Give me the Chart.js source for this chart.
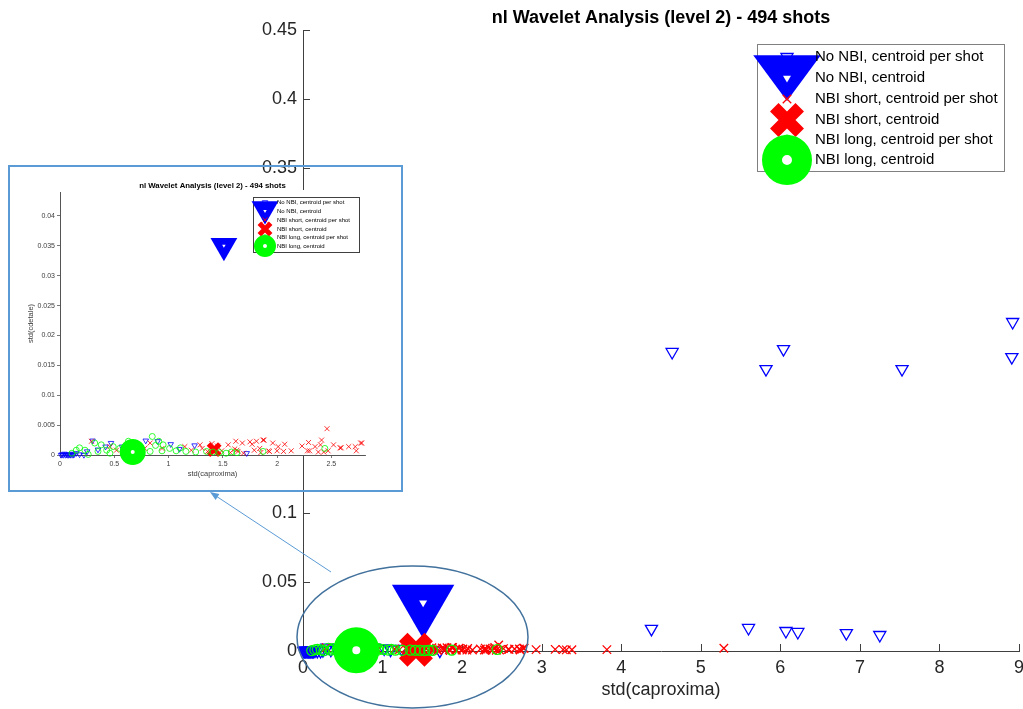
<!DOCTYPE html>
<html>
<head>
<meta charset="utf-8">
<script src="https://cdn.jsdelivr.net/npm/chart.js@4.4.1/dist/chart.umd.min.js"></script>
<style>
    html, body { margin: 0; padding: 0; background: #fff; }
    #wrap { position: relative; width: 1023px; height: 709px; overflow: hidden; }
    #mainChart { position: absolute; left: 0; top: 0; }
    #insetBox { position: absolute; left: 8px; top: 165px; width: 391px; height: 323px; border: 2px solid #5b9bd5; }
    #insetChart { position: absolute; left: 0; top: 0; }
    #overlay { position: absolute; left: 0; top: 0; pointer-events: none; }
</style>
</head>
<body>
<div id="wrap">
    <canvas id="mainChart" width="1023" height="709"></canvas>
    <div id="insetBox"><canvas id="insetChart" width="391" height="323"></canvas></div>
    <svg id="overlay" width="1023" height="709">
        <ellipse cx="412.5" cy="637" rx="115.5" ry="71" fill="none" stroke="#41719c" stroke-width="1.5"/>
        <line x1="331" y1="572" x2="216" y2="496" stroke="#5b9bd5" stroke-width="1"/>
        <polygon points="210,492 219.4,494.1 215.6,499.9" fill="#5b9bd5"/>
    </svg>
</div>
<script>
var TITLE = 'nl Wavelet Analysis (level 2) - 494 shots';
var X_LABEL = 'std(caproxima)';
var Y_LABEL_INSET = 'std(cdetale)';
var LABELS = [
    'No NBI, centroid per shot',
    'No NBI, centroid',
    'NBI short, centroid per shot',
    'NBI short, centroid',
    'NBI long, centroid per shot',
    'NBI long, centroid'
];

// No NBI, one point per shot
var noNbiX = [0.01, 0.02, 0.03, 0.04, 0.05, 0.06, 0.07, 0.08,
              0.09, 0.10, 0.11, 0.12, 0.13, 0.15, 0.18, 0.22,
              0.25, 0.30, 0.35, 0.42, 0.47, 0.57, 0.79, 0.90,
              1.02, 1.10, 1.24, 1.72, 4.38, 4.64, 5.60, 5.82,
              6.04, 6.07, 6.22, 6.83, 7.25, 7.53, 8.91, 8.92];
var noNbiY = [0, 0.0001, 0, 0.0002, 0, 0.0001, 0, 0,
              0.0001, 0, 0.0002, 0, 0.0001, 0.0003, 0.0001, 0,
              0.0006, 0.0024, 0.0009, 0.0014, 0.0020, 0.0014, 0.0024, 0.0023,
              0.0018, 0.0010, 0.0016, 0.0003, 0.0160, 0.2167, 0.0167, 0.2043,
              0.2188, 0.0145, 0.0138, 0.0130, 0.0116, 0.2043, 0.2130, 0.2384];

// NBI short, one point per shot
var shortX = [0.29, 0.46, 0.52, 0.66, 0.78, 0.83, 0.94, 1.15,
              1.21, 1.29, 1.31, 1.36, 1.40, 1.45, 1.49, 1.55,
              1.57, 1.61, 1.62, 1.63, 1.64, 1.68, 1.69, 1.75,
              1.77, 1.79, 1.81, 1.84, 1.85, 1.87, 1.88, 1.92,
              1.93, 1.96, 2.00, 2.01, 2.06, 2.07, 2.13, 2.23,
              2.28, 2.29, 2.30, 2.35, 2.38, 2.40, 2.41, 2.43,
              2.46, 2.47, 2.52, 2.58, 2.59, 2.66, 2.72, 2.73,
              2.77, 2.78, 2.93, 3.17, 3.27, 3.31, 3.38, 3.82,
              5.29];
var shortY = [0.0023, 0.0014, 0.0008, 0.0014, 0.0011, 0.0020, 0.0011, 0.0014,
              0.0008, 0.0017, 0.0011, 0.0006, 0.0019, 0.0015, 0.0007, 0.0017,
              0.0004, 0.0010, 0.0023, 0.0008, 0.0006, 0.0020, 0.0003, 0.0022,
              0.0018, 0.0008, 0.0023, 0.0011, 0.0004, 0.0025, 0.0025, 0.0007,
              0.0006, 0.0020, 0.0007, 0.0014, 0.0006, 0.0018, 0.0007, 0.0015,
              0.0007, 0.0021, 0.0007, 0.0014, 0.0005, 0.0017, 0.0025, 0.0005,
              0.0044, 0.0007, 0.0017, 0.0012, 0.0012, 0.0014, 0.0014, 0.0007,
              0.0020, 0.0020, 0.0010, 0.0012, 0.0010, 0.0008, 0.0009, 0.0010,
              0.0020];

// NBI long, one point per shot
var longX = [0.11, 0.15, 0.18, 0.23, 0.26, 0.32, 0.35, 0.38,
             0.43, 0.46, 0.49, 0.55, 0.63, 0.72, 0.75, 0.83,
             0.85, 0.88, 0.91, 0.94, 0.95, 1.01, 1.07, 1.11,
             1.16, 1.25, 1.35, 1.41, 1.47, 1.53, 1.58, 1.63,
             1.87, 2.44];
var longY = [0.0003, 0.0008, 0.0012, 0.0008, 0.0001, 0.0020, 0.0006, 0.0017,
             0.0008, 0.0003, 0.0014, 0.0011, 0.0023, 0.0016, 0.0006, 0.0006,
             0.0031, 0.0016, 0.0023, 0.0007, 0.0017, 0.0011, 0.0007, 0.0012,
             0.0006, 0.0005, 0.0006, 0.0005, 0.0004, 0.0003, 0.0005, 0.0004,
             0.0006, 0.0011];

// centroids
var noNbiCenX = [1.51], noNbiCenY = [0.035];
var shortCenX = [1.42], shortCenY = [0.0009];
var longCenX = [0.67],  longCenY = [0.0005];

var BLUE = '#0000ff', RED = '#ff0000', GREEN = '#00ff00', NONE = 'rgba(0,0,0,0)';
var FONT = '"Liberation Sans", Arial, Helvetica, sans-serif';
Chart.defaults.font.family = FONT;

var MAIN_STYLE = {
    noShot:    { pointStyle: 'triangle', rotation: 180, radius: 7, borderWidth: 1.3, borderColor: BLUE },
    noCen:     { pointStyle: 'triangle', rotation: 180, radius: 36, borderWidth: 0, backgroundColor: BLUE },
    noCenFace: { pointStyle: 'triangle', rotation: 180, radius: 4.6, borderWidth: 0, backgroundColor: '#fff' },
    shortShot: { pointStyle: 'crossRot', radius: 6, borderWidth: 1.3, borderColor: RED },
    shortCen:  { pointStyle: 'crossRot', radius: 18, borderWidth: 12, borderColor: RED },
    longShot:  { pointStyle: 'circle', radius: 5, borderWidth: 1.2, borderColor: GREEN },
    longCen:   { pointStyle: 'circle', radius: 13.5, borderWidth: 19, borderColor: GREEN, backgroundColor: '#fff' }
};

var INSET_STYLE = {
    noShot:    { pointStyle: 'triangle', rotation: 180, radius: 3.2, borderWidth: 0.8, borderColor: BLUE },
    noCen:     { pointStyle: 'triangle', rotation: 180, radius: 15.5, borderWidth: 0, backgroundColor: BLUE },
    noCenFace: { pointStyle: 'triangle', rotation: 180, radius: 2, borderWidth: 0, backgroundColor: '#fff' },
    shortShot: { pointStyle: 'crossRot', radius: 3.5, borderWidth: 0.8, borderColor: RED },
    shortCen:  { pointStyle: 'crossRot', radius: 8, borderWidth: 5, borderColor: RED },
    longShot:  { pointStyle: 'circle', radius: 3, borderWidth: 0.8, borderColor: GREEN },
    longCen:   { pointStyle: 'circle', radius: 7.5, borderWidth: 11, borderColor: GREEN, backgroundColor: '#fff' }
};

function toDataset(xs, ys, m, clip) {
    return {
        data: xs.map(function (x, i) { return { x: x, y: ys[i] }; }),
        pointStyle: m.pointStyle,
        pointRotation: m.rotation || 0,
        pointRadius: m.radius,
        pointHoverRadius: m.radius,
        pointBorderWidth: m.borderWidth,
        pointHoverBorderWidth: m.borderWidth,
        pointBorderColor: m.borderColor || NONE,
        pointBackgroundColor: m.backgroundColor || NONE,
        clip: clip
    };
}

function buildDatasets(S, clip) {
    // MATLAB puts the last plotted series on top, Chart.js the first one
    return [
        toDataset(noNbiX, noNbiY, S.noShot, clip),
        toDataset(noNbiCenX, noNbiCenY, S.noCen, clip),
        toDataset(noNbiCenX, noNbiCenY, S.noCenFace, clip),
        toDataset(shortX, shortY, S.shortShot, clip),
        toDataset(shortCenX, shortCenY, S.shortCen, clip),
        toDataset(longX, longY, S.longShot, clip),
        toDataset(longCenX, longCenY, S.longCen, clip)
    ].reverse();
}

function fmt(v) { return String(Math.round(v * 10000) / 10000); }

// legend swatches, same geometry as Chart.js point styles (sy squashes a triangle)
function paintMarker(ctx, m, x, y) {
    var r = m.radius, rad = (m.rotation || 0) * Math.PI / 180, sy = m.sy || 1;
    ctx.beginPath();
    if (m.pointStyle === 'circle') {
        ctx.arc(x, y, r, 0, 2 * Math.PI);
    } else if (m.pointStyle === 'triangle') {
        for (var k = 0; k < 3; k++) {
            var a = rad + k * 2 * Math.PI / 3;
            if (k === 0) ctx.moveTo(x + Math.sin(a) * r, y - Math.cos(a) * r * sy);
            else ctx.lineTo(x + Math.sin(a) * r, y - Math.cos(a) * r * sy);
        }
        ctx.closePath();
    } else {
        var b = rad + Math.PI / 4, xo = Math.cos(b) * r, yo = Math.sin(b) * r;
        ctx.moveTo(x - xo, y - yo); ctx.lineTo(x + xo, y + yo);
        ctx.moveTo(x + yo, y - xo); ctx.lineTo(x - yo, y + xo);
    }
    if (m.backgroundColor && m.pointStyle !== 'crossRot') { ctx.fillStyle = m.backgroundColor; ctx.fill(); }
    if (m.borderWidth) { ctx.strokeStyle = m.borderColor; ctx.lineWidth = m.borderWidth; ctx.stroke(); }
}

function legendPlugin(cfg) {
    return {
        id: 'matlabLegend',
        afterDraw: function (chart) {
            var ctx = chart.ctx, b = cfg.box;
            ctx.save();
            ctx.fillStyle = '#fff';
            ctx.fillRect(b[0], b[1], b[2], b[3]);
            ctx.strokeStyle = cfg.edge;
            ctx.lineWidth = 1;
            ctx.strokeRect(b[0] + 0.5, b[1] + 0.5, b[2], b[3]);
            cfg.marks.forEach(function (list, i) {
                list.forEach(function (m) { paintMarker(ctx, m, cfg.markX, cfg.rows[i] + (m.dy || 0)); });
            });
            ctx.fillStyle = '#000';
            ctx.font = cfg.fontSize + 'px ' + FONT;
            ctx.textBaseline = 'middle';
            ctx.textAlign = 'left';
            LABELS.forEach(function (t, i) { ctx.fillText(t, cfg.textX, cfg.rows[i]); });
            ctx.restore();
        }
    };
}

function titlePlugin(size, y) {
    return {
        id: 'centredTitle',
        afterDraw: function (chart) {
            var ctx = chart.ctx, a = chart.chartArea;
            ctx.save();
            ctx.fillStyle = '#000';
            ctx.font = 'bold ' + size + 'px ' + FONT;
            ctx.textAlign = 'center';
            ctx.textBaseline = 'middle';
            ctx.fillText(TITLE, (a.left + a.right) / 2, y);
            ctx.restore();
        }
    };
}

// ticks drawn inside the axes, MATLAB style
var inwardTicks = {
    id: 'inwardTicks',
    beforeDatasetsDraw: function (chart) {
        var ctx = chart.ctx, xs = chart.scales.x, ys = chart.scales.y, a = chart.chartArea;
        ctx.save();
        ctx.strokeStyle = '#404040';
        ctx.lineWidth = 1;
        ctx.beginPath();
        xs.ticks.forEach(function (t) {
            var px = Math.round(xs.getPixelForValue(t.value)) + 0.5;
            ctx.moveTo(px, a.bottom); ctx.lineTo(px, a.bottom - 7);
        });
        ys.ticks.forEach(function (t) {
            var py = Math.round(ys.getPixelForValue(t.value)) + 0.5;
            ctx.moveTo(a.left, py); ctx.lineTo(a.left + 7, py);
        });
        ctx.stroke();
        ctx.restore();
    }
};

// the inset picture is only opaque over its plot band
var insetBand = {
    id: 'insetBand',
    beforeDraw: function (chart) {
        var ctx = chart.ctx;
        ctx.save();
        ctx.fillStyle = '#fff';
        ctx.fillRect(0, 23, chart.width, 265);
        ctx.restore();
    }
};

var mainLegendMarks = [
    [MAIN_STYLE.noShot],
    [Object.assign({}, MAIN_STYLE.noCen, { radius: 39, sy: 0.78, dy: -7.5 }), MAIN_STYLE.noCenFace],
    [MAIN_STYLE.shortShot],
    [MAIN_STYLE.shortCen],
    [MAIN_STYLE.longShot],
    [Object.assign({}, MAIN_STYLE.longCen, { radius: 15, borderWidth: 20 })]
];

new Chart(document.getElementById('mainChart'), {
    type: 'scatter',
    data: { datasets: buildDatasets(MAIN_STYLE, false) },
    options: {
        responsive: false,
        animation: false,
        events: [],
        layout: { autoPadding: false, padding: { top: 30, right: 4, left: 0, bottom: 0 } },
        plugins: { legend: { display: false }, tooltip: { enabled: false }, title: { display: false } },
        scales: {
            x: {
                type: 'linear', min: 0, max: 9,
                ticks: { stepSize: 1, padding: 6, color: '#262626', font: { size: 18 }, maxRotation: 0, autoSkip: false, callback: fmt },
                grid: { display: false, drawTicks: false },
                border: { display: true, color: '#404040', width: 1 },
                title: { display: true, text: X_LABEL, color: '#262626', font: { size: 18 }, padding: { top: 0, bottom: 8 } },
                afterFit: function (s) { s.height = 58; s.paddingLeft = 0; s.paddingRight = 0; }
            },
            y: {
                type: 'linear', min: 0, max: 0.45,
                ticks: { stepSize: 0.05, padding: 6, color: '#262626', font: { size: 18 }, autoSkip: false, callback: fmt },
                grid: { display: false, drawTicks: false },
                border: { display: true, color: '#404040', width: 1 },
                afterFit: function (s) { s.width = 303; s.paddingTop = 0; s.paddingBottom = 0; }
            }
        }
    },
    plugins: [
        inwardTicks,
        titlePlugin(18, 18),
        legendPlugin({
            box: [757, 44, 247, 127], edge: '#808080',
            markX: 787, textX: 815, fontSize: 15,
            rows: [57, 78, 99, 120, 140, 160],
            marks: mainLegendMarks
        })
    ]
});

var insetLegendMarks = [
    [INSET_STYLE.noShot],
    [Object.assign({}, INSET_STYLE.noCen, { dy: -2 }), INSET_STYLE.noCenFace],
    [INSET_STYLE.shortShot],
    [INSET_STYLE.shortCen],
    [INSET_STYLE.longShot],
    [Object.assign({}, INSET_STYLE.longCen, { radius: 6.5, borderWidth: 9 })]
];

new Chart(document.getElementById('insetChart'), {
    type: 'scatter',
    data: { datasets: buildDatasets(INSET_STYLE, { left: false, top: 0, right: 0, bottom: false }) },
    options: {
        responsive: false,
        animation: false,
        events: [],
        layout: { autoPadding: false, padding: { top: 25, right: 36, left: 0, bottom: 0 } },
        plugins: { legend: { display: false }, tooltip: { enabled: false }, title: { display: false } },
        scales: {
            x: {
                type: 'linear', min: 0, max: 2.81,
                ticks: { stepSize: 0.5, padding: 1.8, color: '#3c3c3c', font: { size: 7 }, maxRotation: 0, autoSkip: false, includeBounds: false, callback: fmt },
                grid: { display: true, drawOnChartArea: false, drawTicks: true, tickLength: 3, color: '#555', lineWidth: 0.8 },
                border: { display: true, color: '#555', width: 1 },
                title: { display: true, text: X_LABEL, color: '#3c3c3c', font: { size: 7.5 }, padding: { top: 0, bottom: 11.5 } },
                afterFit: function (s) { s.height = 35; s.paddingLeft = 0; s.paddingRight = 0; }
            },
            y: {
                type: 'linear', min: 0, max: 0.044,
                ticks: { stepSize: 0.005, padding: 2, color: '#3c3c3c', font: { size: 7 }, autoSkip: false, includeBounds: false, callback: fmt },
                grid: { display: true, drawOnChartArea: false, drawTicks: true, tickLength: 3, color: '#555', lineWidth: 0.8 },
                border: { display: true, color: '#555', width: 1 },
                title: { display: true, text: Y_LABEL_INSET, color: '#3c3c3c', font: { size: 7.5 }, padding: { top: 16.5, bottom: 0 } },
                afterFit: function (s) { s.width = 50; s.paddingTop = 0; s.paddingBottom = 0; }
            }
        }
    },
    plugins: [
        insetBand,
        titlePlugin(7.8, 19),
        legendPlugin({
            box: [243, 30, 106, 55], edge: '#404040',
            markX: 255, textX: 267, fontSize: 6,
            rows: [35.3, 44, 53, 62, 70.7, 79],
            marks: insetLegendMarks
        })
    ]
});
</script>
</body>
</html>
